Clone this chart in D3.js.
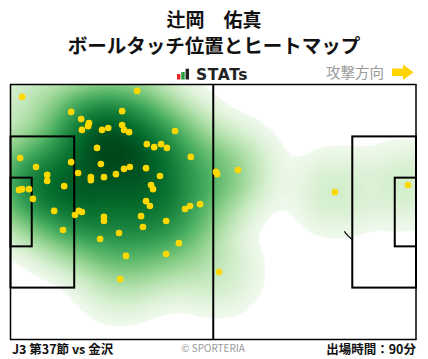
<!DOCTYPE html>
<html>
<head>
<meta charset="utf-8">
<script src="https://cdn.jsdelivr.net/npm/d3@7"></script>
<style>
  body { margin: 0; background: #fff; }
  text { font-family: "Noto Sans CJK JP", "Noto Sans", sans-serif; }
</style>
</head>
<body>
<div id="chart"></div>
<script>
// touch positions in metres (pitch 105 x 68, attacking to the right)
const touchX = [3.0, 32.8, 15.7, 18.3, 20.3, 20.1, 18.5, 23.7, 25.3, 28.9, 28.9, 29.4, 30.7, 42.6,
  35.3, 37.2, 39.0, 40.5, 22.4, 46.7, 2.5, 15.7, 23.4, 6.6, 9.5, 9.5, 17.5, 20.8, 20.8, 24.2,
  27.3, 29.4, 30.9, 35.1, 38.7, 13.9, 2.2, 3.0, 4.8, 5.8, 36.4, 36.9, 53.2, 53.5, 58.9, 84.0,
  102.9, 11.3, 17.7, 18.5, 16.7, 24.2, 24.2, 33.8, 35.1, 36.1, 45.2, 46.5, 49.1, 34.3, 40.3,
  13.6, 23.2, 28.1, 43.6, 29.9, 40.3, 28.4, 54.0];
const touchY = [3.3, 1.7, 7.3, 9.2, 10.3, 11.1, 12.1, 12.1, 11.6, 7.1, 10.8, 12.1, 12.7, 12.4,
  15.9, 16.7, 15.9, 16.9, 16.9, 19.3, 19.6, 20.7, 21.2, 22.0, 24.1, 25.7, 23.6, 24.7, 25.5, 24.7,
  23.9, 22.5, 22.0, 22.3, 24.4, 27.1, 28.1, 27.9, 27.9, 30.5, 26.8, 27.9, 23.3, 23.9, 22.8, 28.7,
  26.8, 33.7, 33.7, 34.0, 34.8, 35.3, 36.4, 35.1, 31.1, 32.4, 33.2, 32.4, 31.9, 38.0, 36.4,
  38.8, 41.2, 39.6, 42.3, 45.7, 45.2, 51.9, 50.0];
const touches = touchX.map((v, i) => ({ x: v, y: touchY[i] }));

const playerName = "辻岡\u3000佑真";
const chartTitle = "ボールタッチ位置とヒートマップ";
const matchLabel = "J3 第37節 vs 金沢";
const minutesLabel = "出場時間：90分";

const width = 428;
const height = 359;

const svg = d3.select("#chart").append("svg")
  .attr("width", width)
  .attr("height", height);

// pitch scales
const x = d3.scaleLinear().domain([0, 105]).range([10.5, 416]);
const y = d3.scaleLinear().domain([0, 68]).range([84.5, 339.5]);

// header
svg.append("text")
  .attr("x", 214).attr("y", 27)
  .attr("text-anchor", "middle")
  .style("font-size", "19px").style("font-weight", "bold")
  .attr("fill", "#111")
  .text(playerName);

svg.append("text")
  .attr("x", 214).attr("y", 53)
  .attr("text-anchor", "middle")
  .style("font-size", "19.5px").style("font-weight", "bold")
  .attr("fill", "#111")
  .text(chartTitle);

// STATs logo
const logoBars = [
  { x: 177, h: 5.5, c: "#e8281e" },
  { x: 181.3, h: 7.5, c: "#1e9e3a" },
  { x: 185.6, h: 10.8, c: "#222" }
];
svg.selectAll(".logo-bar").data(logoBars).join("rect")
  .attr("x", d => d.x).attr("y", d => 79.5 - d.h)
  .attr("width", 3.4).attr("height", d => d.h)
  .attr("fill", d => d.c);

svg.append("text")
  .attr("x", 196).attr("y", 79.5)
  .style("font-family", "DejaVu Sans")
  .style("font-size", "15.5px").style("font-weight", "bold")
  .style("letter-spacing", "0.6px")
  .attr("fill", "#222")
  .text("STATs");

svg.append("text")
  .attr("x", 384).attr("y", 78)
  .attr("text-anchor", "end")
  .style("font-size", "14.5px")
  .attr("fill", "#9a9a9a")
  .text("攻撃方向");

// attack direction arrow
svg.append("path")
  .attr("d", "M392,68.5 L403,68.5 L403,64.5 L413.5,72.3 L403,80 L403,76 L392,76 Z")
  .attr("fill", "#ffd400");

// heat map from touch density
svg.append("clipPath").attr("id", "pitch-clip")
  .append("rect")
  .attr("x", x(0)).attr("y", y(0))
  .attr("width", x(105) - x(0)).attr("height", y(68) - y(0));

const bandwidth = 25;
const density = d3.contourDensity()
  .x(d => x(d.x))
  .y(d => y(d.y))
  .size([width, height])
  .cellSize(2)
  .bandwidth(bandwidth)
  .contours(touches);

// lowest level: a fraction of one lone touch's peak
const minDensity = 0.2 / (2 * Math.PI * bandwidth * bandwidth);
const maxDensity = density.max;
const levelCount = 90;
const levels = d3.range(levelCount).map(i => {
  const s0 = Math.sqrt(minDensity), s1 = Math.sqrt(maxDensity);
  const s = s0 + (s1 - s0) * i / levelCount;
  return s * s;
});
const color = d3.scaleSequentialSqrt(d3.interpolateGreens).domain([minDensity * 0.4, maxDensity]);

svg.append("g")
  .attr("clip-path", "url(#pitch-clip)")
  .selectAll("path")
  .data(levels.map(v => density(v)))
  .join("path")
  .attr("d", d3.geoPath())
  .attr("fill", d => color(d.value));

// pitch markings
const pitch = svg.append("g")
  .attr("fill", "none")
  .attr("stroke", "#000")
  .attr("stroke-width", 2);

pitch.append("rect")
  .attr("x", x(0)).attr("y", y(0))
  .attr("width", x(105) - x(0)).attr("height", y(68) - y(0))
  .attr("stroke-width", 1.5);

pitch.append("line")
  .attr("x1", x(52.5)).attr("x2", x(52.5))
  .attr("y1", y(0)).attr("y2", y(68));

const boxes = [
  { x0: 0, x1: 16.5, y0: 13.84, y1: 54.16 },
  { x0: 0, x1: 5.5, y0: 24.84, y1: 43.16 },
  { x0: 88.5, x1: 105, y0: 13.84, y1: 54.16 },
  { x0: 99.5, x1: 105, y0: 24.84, y1: 43.16 }
];
pitch.selectAll(".box").data(boxes).join("rect")
  .attr("x", d => x(d.x0)).attr("y", d => y(d.y0))
  .attr("width", d => x(d.x1) - x(d.x0))
  .attr("height", d => y(d.y1) - y(d.y0));

// visible piece of the right penalty arc
const arcAngles = d3.range(2.17, 2.5, 0.02);
pitch.append("path")
  .attr("stroke-width", 1.2)
  .attr("d", d3.line()(arcAngles.map(a => [x(94 - 9.15 * Math.sin(a)), y(34 - 9.15 * Math.cos(a))])));

// touch points
svg.append("g")
  .selectAll("circle")
  .data(touches)
  .join("circle")
  .attr("cx", d => x(d.x))
  .attr("cy", d => y(d.y))
  .attr("r", 3.3)
  .attr("fill", "#ffd800");

// footer
svg.append("text")
  .attr("x", 12).attr("y", 354)
  .style("font-size", "12.5px").style("font-weight", "bold")
  .attr("fill", "#111")
  .text(matchLabel);

svg.append("text")
  .attr("x", 213).attr("y", 352)
  .attr("text-anchor", "middle")
  .style("font-size", "10px")
  .attr("fill", "#999")
  .text("© SPORTERIA");

svg.append("text")
  .attr("x", 416).attr("y", 354)
  .attr("text-anchor", "end")
  .style("font-size", "12.5px").style("font-weight", "bold")
  .attr("fill", "#111")
  .text(minutesLabel);
</script>
</body>
</html>
